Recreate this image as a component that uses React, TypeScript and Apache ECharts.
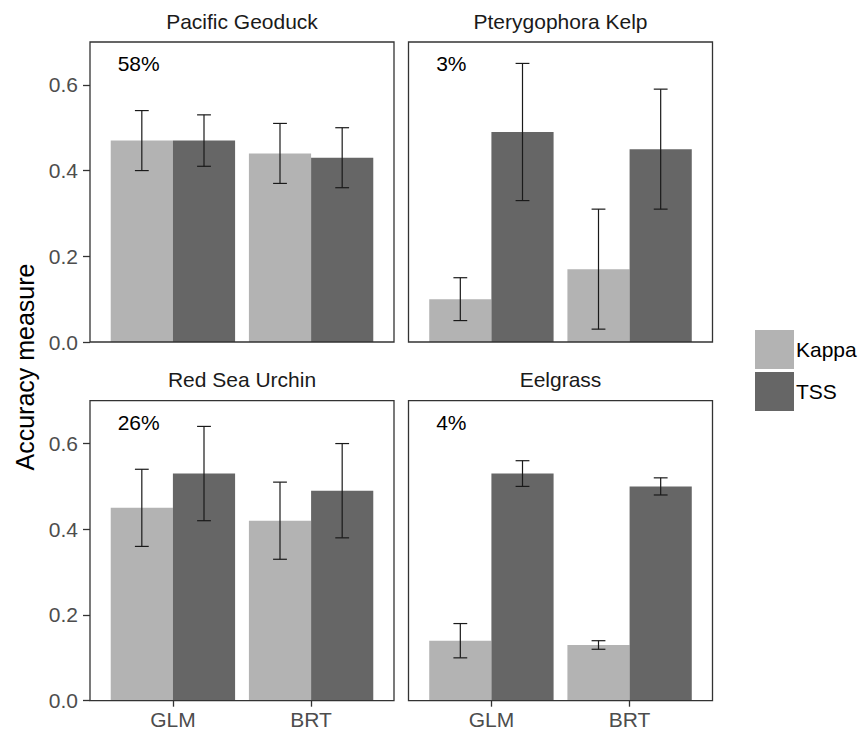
import React, { useEffect, useRef } from 'react';
import * as echarts from 'echarts';

// Facets, in reading order
const species = ['Pacific Geoduck', 'Pterygophora Kelp', 'Red Sea Urchin', 'Eelgrass'];
const prevalence = ['58%', '3%', '26%', '4%'];
const methods = ['GLM', 'BRT'];
const measures = ['Kappa', 'TSS'];
const yTicks = [0, 0.2, 0.4, 0.6];

// Per species: [GLM, BRT]
const kappaMean = [[0.47, 0.44], [0.10, 0.17], [0.45, 0.42], [0.14, 0.13]];
const kappaLower = [[0.40, 0.37], [0.05, 0.03], [0.36, 0.33], [0.10, 0.12]];
const kappaUpper = [[0.54, 0.51], [0.15, 0.31], [0.54, 0.51], [0.18, 0.14]];
const tssMean = [[0.47, 0.43], [0.49, 0.45], [0.53, 0.49], [0.53, 0.50]];
const tssLower = [[0.41, 0.36], [0.33, 0.31], [0.42, 0.38], [0.50, 0.48]];
const tssUpper = [[0.53, 0.50], [0.65, 0.59], [0.64, 0.60], [0.56, 0.52]];

const FONT = "'Liberation Sans', Arial, Helvetica, sans-serif";
const KAPPA_COLOR = '#b3b3b3';
const TSS_COLOR = '#666666';
const PANEL_W = 304;
const PANEL_H = 300;
const panels = [
  { left: 90, top: 42 },
  { left: 408.5, top: 42 },
  { left: 90, top: 400.7 },
  { left: 408.5, top: 400.7 },
];
const DODGE = 0.45; // width of one dodged bar, in x units
const CAP = 0.05; // half width of the error-bar caps

function barRenderer(offset: number, color: string) {
  return (params: any, api: any) => {
    const x = api.value(0);
    const v = api.value(1);
    const tl = api.coord([x + offset, v]);
    const br = api.coord([x + offset + DODGE, 0]);
    return {
      type: 'rect',
      shape: { x: tl[0], y: tl[1], width: br[0] - tl[0], height: br[1] - tl[1] },
      style: { fill: color },
    };
  };
}

function errorRenderer(params: any, api: any) {
  const x = api.value(0);
  const lo = api.value(1);
  const hi = api.value(2);
  const a = api.coord([x - CAP, hi]);
  const b = api.coord([x + CAP, lo]);
  const mid = api.coord([x, lo])[0];
  const style = { stroke: '#1a1a1a', lineWidth: 1.2 };
  return {
    type: 'group',
    children: [
      { type: 'line', shape: { x1: a[0], y1: a[1], x2: b[0], y2: a[1] }, style },
      { type: 'line', shape: { x1: a[0], y1: b[1], x2: b[0], y2: b[1] }, style },
      { type: 'line', shape: { x1: mid, y1: a[1], x2: mid, y2: b[1] }, style },
    ],
  };
}

export default function App() {
  const ref = useRef<HTMLDivElement>(null);

  useEffect(() => {
    if (!ref.current) return;
    const chart = echarts.init(ref.current, null, { renderer: 'svg' });

    const grid: any[] = [];
    const xAxis: any[] = [];
    const yAxis: any[] = [];
    const series: any[] = [];
    const graphic: any[] = [];

    panels.forEach((p, g) => {
      const isBottom = g >= 2;
      const isLeft = g % 2 === 0;
      grid.push({
        left: p.left,
        top: p.top,
        width: PANEL_W,
        height: PANEL_H,
        containLabel: false,
        outerBoundsMode: 'none',
      });
      xAxis.push({
        type: 'value',
        gridIndex: g,
        min: 0.4,
        max: 2.6,
        axisLine: { show: false },
        splitLine: { show: false },
        axisTick: {
          show: isBottom,
          customValues: [1, 2],
          length: 6,
          lineStyle: { color: '#333333', width: 1.3 },
        },
        axisLabel: {
          show: isBottom,
          customValues: [1, 2],
          formatter: (v: number) => methods[Math.round(v) - 1] ?? '',
          fontFamily: FONT,
          fontSize: 21,
          color: '#4d4d4d',
          margin: 8,
        },
      });
      yAxis.push({
        type: 'value',
        gridIndex: g,
        min: 0,
        max: 0.7,
        axisLine: { show: false },
        splitLine: { show: false },
        axisTick: {
          show: isLeft,
          customValues: yTicks,
          length: 7,
          lineStyle: { color: '#333333', width: 1.3 },
        },
        axisLabel: {
          show: isLeft,
          customValues: yTicks,
          formatter: (v: number) => v.toFixed(1),
          fontFamily: FONT,
          fontSize: 21,
          color: '#4d4d4d',
          margin: 12,
        },
      });

      series.push({
        type: 'custom',
        name: measures[0],
        xAxisIndex: g,
        yAxisIndex: g,
        itemStyle: { color: KAPPA_COLOR },
        renderItem: barRenderer(-DODGE, KAPPA_COLOR),
        data: methods.map((m, i) => [i + 1, kappaMean[g][i]]),
        z: 2,
      });
      series.push({
        type: 'custom',
        name: measures[1],
        xAxisIndex: g,
        yAxisIndex: g,
        itemStyle: { color: TSS_COLOR },
        renderItem: barRenderer(0, TSS_COLOR),
        data: methods.map((m, i) => [i + 1, tssMean[g][i]]),
        z: 2,
      });
      const errData: number[][] = [];
      methods.forEach((m, i) => {
        errData.push([i + 1 - DODGE / 2, kappaLower[g][i], kappaUpper[g][i]]);
        errData.push([i + 1 + DODGE / 2, tssLower[g][i], tssUpper[g][i]]);
      });
      series.push({
        type: 'custom',
        name: 'error',
        xAxisIndex: g,
        yAxisIndex: g,
        renderItem: errorRenderer,
        data: errData,
        z: 3,
      });
      series.push({
        type: 'custom',
        name: 'prevalence',
        xAxisIndex: g,
        yAxisIndex: g,
        data: [[0.6, 0.65]],
        z: 4,
        renderItem: (params: any, api: any) => {
          const c = api.coord([api.value(0), api.value(1)]);
          return {
            type: 'text',
            x: c[0],
            y: c[1],
            style: {
              text: prevalence[g],
              fontFamily: FONT,
              fontSize: 21,
              fill: '#000000',
              textAlign: 'left',
              textVerticalAlign: 'middle',
            },
          };
        },
      });

      // panel border, drawn over the bars
      graphic.push({
        type: 'rect',
        z: 100,
        silent: true,
        shape: { x: p.left, y: p.top, width: PANEL_W, height: PANEL_H },
        style: { fill: null, stroke: '#333333', lineWidth: 1.3 },
      });
      // strip title
      graphic.push({
        type: 'text',
        z: 100,
        x: p.left + PANEL_W / 2,
        y: p.top - 21,
        style: {
          text: species[g],
          fontFamily: FONT,
          fontSize: 21,
          fill: '#1a1a1a',
          textAlign: 'center',
          textVerticalAlign: 'middle',
        },
      });
    });

    graphic.push({
      type: 'text',
      z: 100,
      x: 25,
      y: 367,
      rotation: Math.PI / 2,
      style: {
        text: 'Accuracy measure',
        fontFamily: FONT,
        fontSize: 25,
        fill: '#000000',
        textAlign: 'center',
        textVerticalAlign: 'middle',
      },
    });

    chart.setOption({
      animation: false,
      backgroundColor: '#ffffff',
      grid,
      xAxis,
      yAxis,
      series,
      graphic,
      legend: {
        orient: 'vertical',
        left: 755,
        top: 330,
        padding: 0,
        itemWidth: 39,
        itemHeight: 39,
        itemGap: 3,
        selectedMode: false,
        data: [
          { name: measures[0], icon: 'rect', itemStyle: { color: KAPPA_COLOR } },
          { name: measures[1], icon: 'rect', itemStyle: { color: TSS_COLOR } },
        ],
        textStyle: { fontFamily: FONT, fontSize: 21, color: '#000000', padding: [0, 0, 0, -3] },
      },
    });

    return () => chart.dispose();
  }, []);

  return (
    <div
      ref={ref}
      style={{ position: 'fixed', left: 0, top: 0, width: 864, height: 733 }}
    />
  );
}
